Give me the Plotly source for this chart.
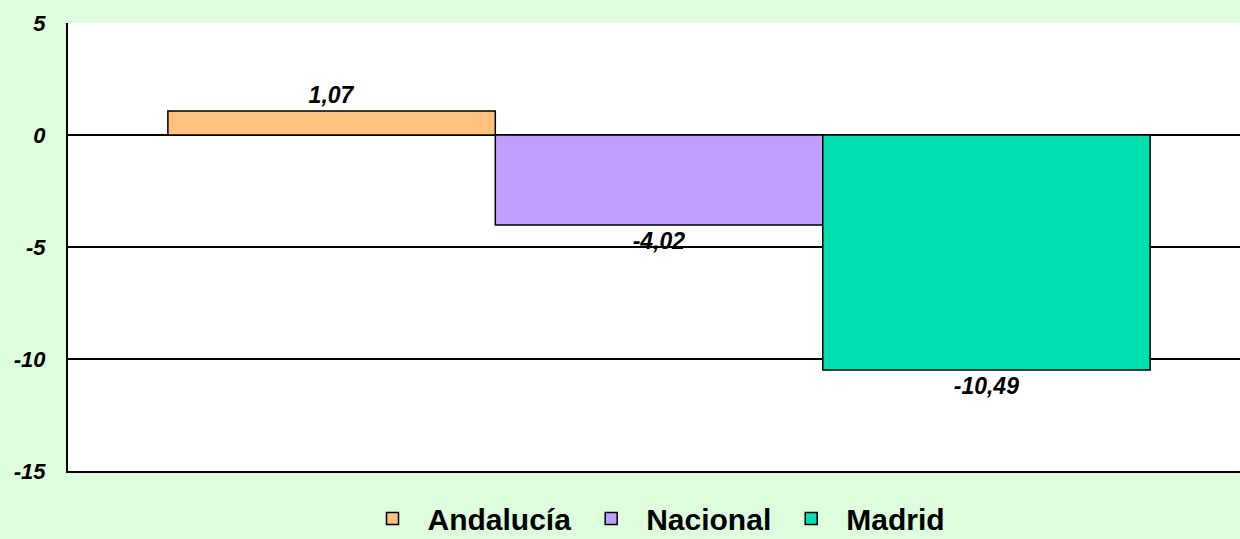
import plotly.graph_objects as go

regions = ["Andalucía", "Nacional", "Madrid"]
values = [1.07, -4.02, -10.49]
labels = ["1,07", "-4,02", "-10,49"]
colors = ["#FFC080", "#C09FFF", "#00E0B0"]

fig = go.Figure()
for name, v, lab, c in zip(regions, values, labels, colors):
    fig.add_trace(go.Bar(
        x=[0], y=[v], name=name,
        text=[lab], textposition="outside",
        textfont=dict(family="Liberation Sans, Arial", size=23, color="black",
                      weight="bold", style="italic"),
        marker=dict(color=c, line=dict(color="black", width=1.5)),
        cliponaxis=False,
    ))

fig.update_layout(
    width=1240, height=539,
    barmode="group", bargap=0.169, bargroupgap=0,
    paper_bgcolor="#DDFDDD", plot_bgcolor="white",
    margin=dict(l=68, r=0, t=23, b=68, autoexpand=False),
    font=dict(family="Liberation Sans, Arial", color="black"),
    showlegend=True,
    legend=dict(orientation="h", x=0.5, xanchor="center", y=-0.106, yanchor="middle",
                font=dict(size=30, weight="bold"), bgcolor="rgba(0,0,0,0)",
                itemwidth=60, traceorder="normal"),
    xaxis=dict(range=[-0.5, 0.4915], showticklabels=False, showgrid=False,
               zeroline=False, showline=True, linecolor="black", linewidth=2,
               ticks=""),
    yaxis=dict(range=[-15, 5], tickvals=[5, 0, -5, -10, -15],
               ticktext=["5", "0", "-5", "-10", "-15"],
               tickfont=dict(size=22, weight="bold", style="italic"),
               showgrid=True, gridcolor="black", gridwidth=1.5,
               zeroline=False, showline=True, linecolor="black", linewidth=2,
               ticks="", ticklabelstandoff=16),
)

fig.write_html("out.html", config={"displayModeBar": False},
               post_script="document.body.style.margin='0';")
